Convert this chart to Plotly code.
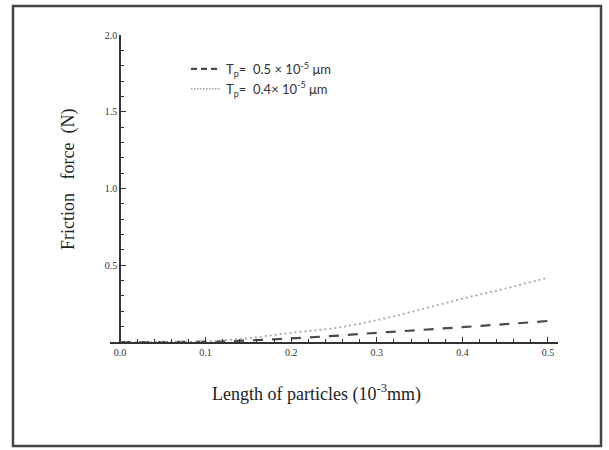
import plotly.graph_objects as go

# Data
length = [0.0, 0.05, 0.10, 0.15, 0.20, 0.25, 0.30, 0.35, 0.40, 0.45, 0.50]
force_tp05 = [0.0, 0.0, 0.002, 0.010, 0.024, 0.040, 0.060, 0.078, 0.097, 0.116, 0.137]
force_tp04 = [0.0, 0.0, 0.004, 0.025, 0.060, 0.090, 0.142, 0.210, 0.282, 0.348, 0.420]
legend_tp05 = "T<sub>p</sub>=  0.5 × 10<sup>-5</sup> μm"
legend_tp04 = "T<sub>p</sub>=  0.4× 10<sup>-5</sup> μm"
x_ticks = [0.0, 0.1, 0.2, 0.3, 0.4, 0.5]
x_ticklabels = ["0.0", "0.1", "0.2", "0.3", "0.4", "0.5"]
y_ticks = [0.5, 1.0, 1.5, 2.0]
y_ticklabels = ["0.5", "1.0", "1.5", "2.0"]
x_title = "Length of particles (10<sup>-3</sup>mm)"
y_title = "Friction&nbsp;&nbsp;&nbsp;force&nbsp;&nbsp;(N)"

W, H = 609, 450
PL, PR, PT, PB = 110, 558, 35, 342        # plot area in window pixels
L, R, T, B = PL, W - PR, PT, H - PB
pw = PR - PL
ph = PB - PT
xr = [-0.0117, 0.5117]
ypos = (0 - xr[0]) / (xr[1] - xr[0])

def px_x(px):
    return (px - PL) / pw

def px_y(py):
    return (PB - py) / ph

fig = go.Figure()
fig.add_trace(go.Scatter(
    x=length, y=force_tp05, mode="lines", showlegend=False,
    line=dict(color="#4a4a4a", width=2.2, dash="10px,9px", shape="spline"),
))
fig.add_trace(go.Scatter(
    x=length, y=force_tp04, mode="lines", showlegend=False,
    line=dict(color="#a8a8a8", width=1.8, dash="2px,3px", shape="spline"),
))
# legend entries (sample styles as in the reference key)
fig.add_trace(go.Scatter(
    x=[None], y=[None], mode="lines", name=legend_tp05,
    line=dict(color="#4a4a4a", width=2.2, dash="6px,4px"),
))
fig.add_trace(go.Scatter(
    x=[None], y=[None], mode="lines", name=legend_tp04,
    line=dict(color="#a0a0a0", width=1.5, dash="1.5px,1.5px"),
))

fig.add_shape(type="rect", xref="paper", yref="paper",
              x0=px_x(13), x1=px_x(601),
              y0=px_y(446), y1=px_y(6),
              line=dict(color="#444444", width=2.5), layer="below")

fig.add_annotation(text=x_title, xref="paper", yref="paper",
                   x=px_x(316), y=px_y(393), showarrow=False,
                   xanchor="center", yanchor="middle",
                   font=dict(family="Liberation Serif", size=18, color="#222222"))
fig.add_annotation(text=y_title, xref="paper", yref="paper",
                   x=px_x(68), y=px_y(180), showarrow=False, textangle=-90,
                   xanchor="center", yanchor="middle",
                   font=dict(family="Liberation Serif", size=18, color="#222222"))

axis_font = dict(family="Liberation Serif", size=10, color="#333333")
fig.update_layout(
    width=W, height=H,
    margin=dict(l=L, r=R, t=T, b=B),
    paper_bgcolor="white", plot_bgcolor="white",
    showlegend=True,
    legend=dict(x=px_x(186), y=px_y(54), xanchor="left", yanchor="top",
                bgcolor="rgba(0,0,0,0)", font=dict(family="Lato", size=13, color="#333333"),
                tracegroupgap=0, itemwidth=30),
    xaxis=dict(
        range=xr, domain=[0, 1], showgrid=False, zeroline=False,
        showline=True, linecolor="#333333", linewidth=1.5,
        tickvals=x_ticks, ticktext=x_ticklabels, ticks="inside", ticklen=5,
        tickcolor="#333333", tickfont=axis_font,
        minor=dict(dtick=0.02, tick0=0, ticks="inside", ticklen=3, tickcolor="#333333"),
    ),
    yaxis=dict(
        range=[0, 2.0], anchor="free", position=ypos, showgrid=False, zeroline=False,
        showline=True, linecolor="#333333", linewidth=1.5,
        tickvals=y_ticks, ticktext=y_ticklabels, ticks="inside", ticklen=5,
        tickcolor="#333333", tickfont=axis_font,
        minor=dict(dtick=0.1, tick0=0, ticks="inside", ticklen=3, tickcolor="#333333"),
    ),
)

fig.write_html(
    "out.html",
    config={"displayModeBar": False},
    post_script="document.body.style.margin='0';document.body.style.overflow='hidden';",
)
